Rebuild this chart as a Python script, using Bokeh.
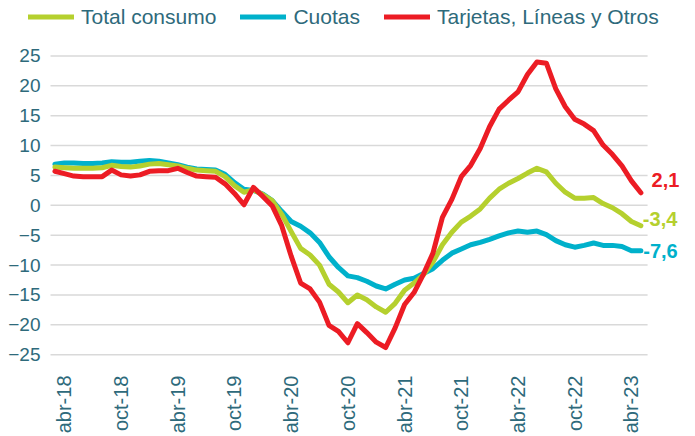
import math
from bokeh.plotting import figure
from bokeh.models import Range1d, FixedTicker, Legend, LegendItem, Label
from bokeh.embed import file_html
from bokeh.resources import INLINE

# ---- data (monthly, mar-18 .. may-23) ----
MES = ["ene", "feb", "mar", "abr", "may", "jun", "jul", "ago", "sep", "oct", "nov", "dic"]
meses = [f"{MES[(2 + k) % 12]}-{18 + (2 + k) // 12}" for k in range(63)]

total_consumo = [6.4, 6.3, 6.2, 6.2, 6.2, 6.3, 6.7, 6.5, 6.4, 6.6, 6.9, 7.0, 6.8, 6.6, 6.2, 5.9,
                 5.8, 5.7, 4.8, 3.3, 2.2, 2.6, 1.8, 0.8, -1.5, -4.4, -7.2, -8.3, -10.0, -13.2,
                 -14.5, -16.3, -15.0, -15.8, -17.0, -17.9, -16.4, -14.2, -13.0, -11.6, -9.5,
                 -6.6, -4.5, -2.8, -1.8, -0.6, 1.2, 2.7, 3.7, 4.5, 5.4, 6.2, 5.6, 3.7, 2.2,
                 1.2, 1.2, 1.3, 0.3, -0.4, -1.4, -2.7, -3.4]

cuotas = [6.9, 7.1, 7.1, 7.0, 7.0, 7.1, 7.3, 7.2, 7.2, 7.4, 7.5, 7.4, 7.1, 6.8, 6.4, 6.1,
          6.0, 5.9, 5.2, 3.8, 2.7, 2.5, 1.9, 0.8, -1.0, -2.7, -3.5, -4.6, -6.2, -8.6,
          -10.4, -11.8, -12.1, -12.7, -13.5, -14.0, -13.2, -12.5, -12.2, -11.4, -10.6,
          -9.2, -8.0, -7.3, -6.6, -6.2, -5.7, -5.1, -4.6, -4.3, -4.5, -4.3, -4.9, -5.9,
          -6.6, -7.0, -6.7, -6.3, -6.7, -6.7, -6.9, -7.6, -7.6]

tarjetas = [5.7, 5.3, 4.9, 4.8, 4.8, 4.8, 5.9, 5.1, 4.9, 5.1, 5.7, 5.8, 5.8, 6.2, 5.5, 4.9,
            4.8, 4.7, 3.6, 2.0, 0.1, 3.0, 1.5, -0.1, -3.4, -8.5, -13.0, -14.0, -16.2, -20.1,
            -21.1, -23.0, -19.8, -21.3, -22.9, -23.8, -20.5, -16.6, -14.6, -11.5, -8.0,
            -2.0, 1.0, 4.8, 6.7, 9.5, 13.2, 16.1, 17.6, 19.0, 21.9, 24.0, 23.8, 19.5, 16.5,
            14.4, 13.6, 12.5, 10.1, 8.5, 6.6, 4.1, 2.1]

tick_labels = ["abr-18", "oct-18", "abr-19", "oct-19", "abr-20", "oct-20",
               "abr-21", "oct-21", "abr-22", "oct-22", "abr-23"]
y_ticks = [-25, -20, -15, -10, -5, 0, 5, 10, 15, 20, 25]

series_names = ["Total consumo", "Cuotas", "Tarjetas, Líneas y Otros"]

# ---- styles ----
GREEN = "#B5D02E"
CYAN = "#00B1CB"
RED = "#EC1C24"
TEXT = "#2E6A7B"
GRID = "#D9D9D9"
FONT = "Liberation Sans"

x = list(range(len(meses)))
tick_pos = [meses.index(t) for t in tick_labels]

# horizontal extent of the plotting area (data units)
x_lo = x[0] - 0.466
x_hi = x[-1] + 0.71

p = figure(width=695, height=436, output_backend="svg", toolbar_location=None,
           x_range=Range1d(-5.757, 67.78), y_range=Range1d(-26.64, 34.29),
           min_border_left=0, min_border_right=0, min_border_top=0, min_border_bottom=64)
p.outline_line_color = None
p.background_fill_color = "white"
p.border_fill_color = "white"
p.xgrid.grid_line_color = None
p.ygrid.grid_line_color = None

# gridlines limited to the plotting area
p.segment(x0=[x_lo] * len(y_ticks), x1=[x_hi] * len(y_ticks), y0=y_ticks, y1=y_ticks,
          line_color=GRID, line_width=1.5)

for ax in (p.xaxis[0], p.yaxis[0]):
    ax.axis_line_color = None
    ax.major_tick_line_color = None
    ax.minor_tick_line_color = None
    ax.major_label_text_color = TEXT
    ax.major_label_text_font = FONT

p.yaxis.ticker = FixedTicker(ticks=y_ticks)
p.yaxis.fixed_location = x_lo
p.yaxis.major_label_text_font_size = "19px"
p.yaxis.major_label_standoff = 4

p.xaxis.ticker = FixedTicker(ticks=tick_pos)
p.xaxis.major_label_overrides = {pos: lab for pos, lab in zip(tick_pos, tick_labels)}
p.xaxis.major_label_orientation = math.pi / 2
p.xaxis.major_label_text_font_size = "20px"
p.xaxis.major_label_standoff = 5

r_cuo = p.line(x, cuotas, line_color=CYAN, line_width=5, line_join="round", line_cap="round")
r_tot = p.line(x, total_consumo, line_color=GREEN, line_width=5, line_join="round", line_cap="round")
r_tar = p.line(x, tarjetas, line_color=RED, line_width=5, line_join="round", line_cap="round")

legend = Legend(
    items=[LegendItem(label=series_names[0], renderers=[r_tot]),
           LegendItem(label=series_names[1], renderers=[r_cuo]),
           LegendItem(label=series_names[2], renderers=[r_tar])],
    orientation="horizontal", location=(28, 335.5),
    glyph_width=46, glyph_height=21, label_height=21, label_standoff=7, spacing=24,
    padding=0, margin=0, border_line_color=None, background_fill_alpha=0,
    label_text_font=FONT, label_text_font_size="21px", label_text_color=TEXT,
)
p.add_layout(legend)


def fmt(v):
    return f"{v:.1f}".replace(".", ",")


for arr, col, dx, dy in [(tarjetas, RED, 10.7, 13), (total_consumo, GREEN, 2, 6.5), (cuotas, CYAN, 2.4, -0.5)]:
    p.add_layout(Label(x=x[-1], y=arr[-1], x_offset=dx, y_offset=dy, text=fmt(arr[-1]),
                       text_color=col, text_font=FONT, text_font_style="bold",
                       text_font_size="20px", text_baseline="middle", text_align="left"))

open("out.html", "w").write(file_html(p, INLINE))
